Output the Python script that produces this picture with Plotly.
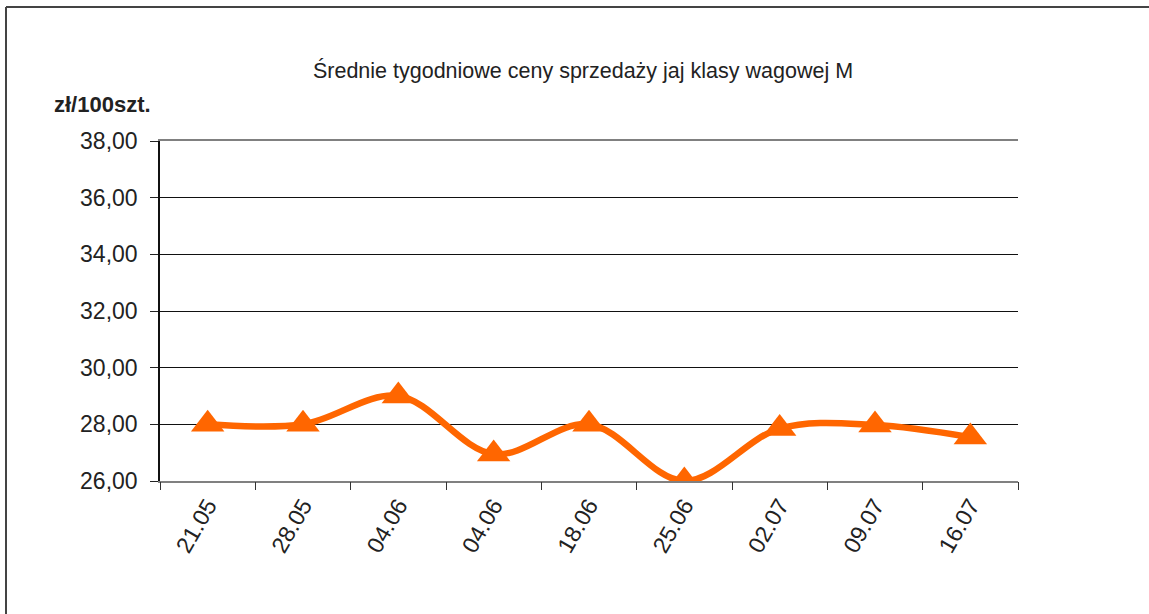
import plotly.graph_objects as go

categories = ["21.05", "28.05", "04.06", "04.06", "18.06", "25.06", "02.07", "09.07", "16.07"]
prices = [28.00, 28.00, 29.00, 26.95, 28.00, 26.00, 27.85, 27.98, 27.55]
title_text = "Średnie tygodniowe ceny sprzedaży jaj klasy wagowej M"
y_unit = "zł/100szt."

W, H = 1149, 614
L, R, T, B = 160, 1149 - 1018, 141, 614 - 481
pw, ph = W - L - R, H - T - B

xs = list(range(len(categories)))
FONT = "Liberation Sans, Arial, sans-serif"


def px_x(X):
    return (X - L) / pw


def px_y(Y):
    return (H - B - Y) / ph


fig = go.Figure()
fig.add_trace(go.Scatter(
    x=xs, y=prices, mode="lines+markers",
    line=dict(color="#FF6600", width=6.5, shape="spline", smoothing=1.0),
    marker=dict(symbol="triangle-up", size=29, color="#FF6600"),
    showlegend=False, hoverinfo="x+y",
))
fig.add_trace(go.Scatter(x=[xs[0]], y=[prices[0]], xaxis="x2", mode="markers",
                         marker=dict(opacity=0), showlegend=False, hoverinfo="skip"))

n = len(categories)
fig.update_layout(
    width=W, height=H,
    margin=dict(l=L, r=R, t=T, b=B),
    paper_bgcolor="white", plot_bgcolor="white",
    separators=", ",
    font=dict(family=FONT, color="#222222"),
    title=dict(text=title_text, x=583 / W, xanchor="center",
               y=1 - 70 / H, yanchor="middle",
               yref="container", xref="container",
               font=dict(size=21.5, color="#222222", family=FONT)),
    xaxis=dict(
        range=[-0.5, n - 0.5], tickmode="array", tickvals=xs, ticktext=categories,
        tickangle=-60, ticks="", tickfont=dict(size=23, color="#222222"),
        showgrid=False, zeroline=False, showline=True, linecolor="#808080", linewidth=2,
        mirror=True, fixedrange=True,
    ),
    xaxis2=dict(
        overlaying="x", range=[-0.5, n - 0.5], tickmode="array",
        tickvals=[i - 0.5 for i in range(n + 1)], showticklabels=False,
        ticks="outside", ticklen=8, tickcolor="#333333", tickwidth=1,
        showgrid=False, zeroline=False, showline=False, side="bottom", anchor="y",
        fixedrange=True,
    ),
    yaxis=dict(
        range=[26, 38], dtick=2, tick0=26, tickformat=".2f",
        ticks="outside", ticklen=8, tickcolor="#222222", tickwidth=1,
        tickfont=dict(size=23, color="#222222"),
        showgrid=True, gridcolor="#111111", gridwidth=1,
        zeroline=False, showline=True, linecolor="#111111", linewidth=1.5,
        ticklabelstandoff=8, fixedrange=True,
    ),
    annotations=[dict(
        text="<b>" + y_unit + "</b>", xref="paper", yref="paper",
        x=px_x(102), y=px_y(105), xanchor="center", yanchor="middle",
        showarrow=False, font=dict(size=22, color="#222222", family=FONT),
    )],
    shapes=[
        dict(type="line", xref="paper", yref="paper",
             x0=px_x(6), x1=px_x(1160), y0=px_y(7), y1=px_y(7),
             line=dict(color="#444444", width=2)),
        dict(type="line", xref="paper", yref="paper",
             x0=px_x(6), x1=px_x(6), y0=px_y(7), y1=px_y(630),
             line=dict(color="#444444", width=2)),
    ],
)

fig.write_html(
    "out.html",
    config={"displayModeBar": False},
    post_script="document.body.style.margin='0';document.body.style.overflow='hidden';",
)
